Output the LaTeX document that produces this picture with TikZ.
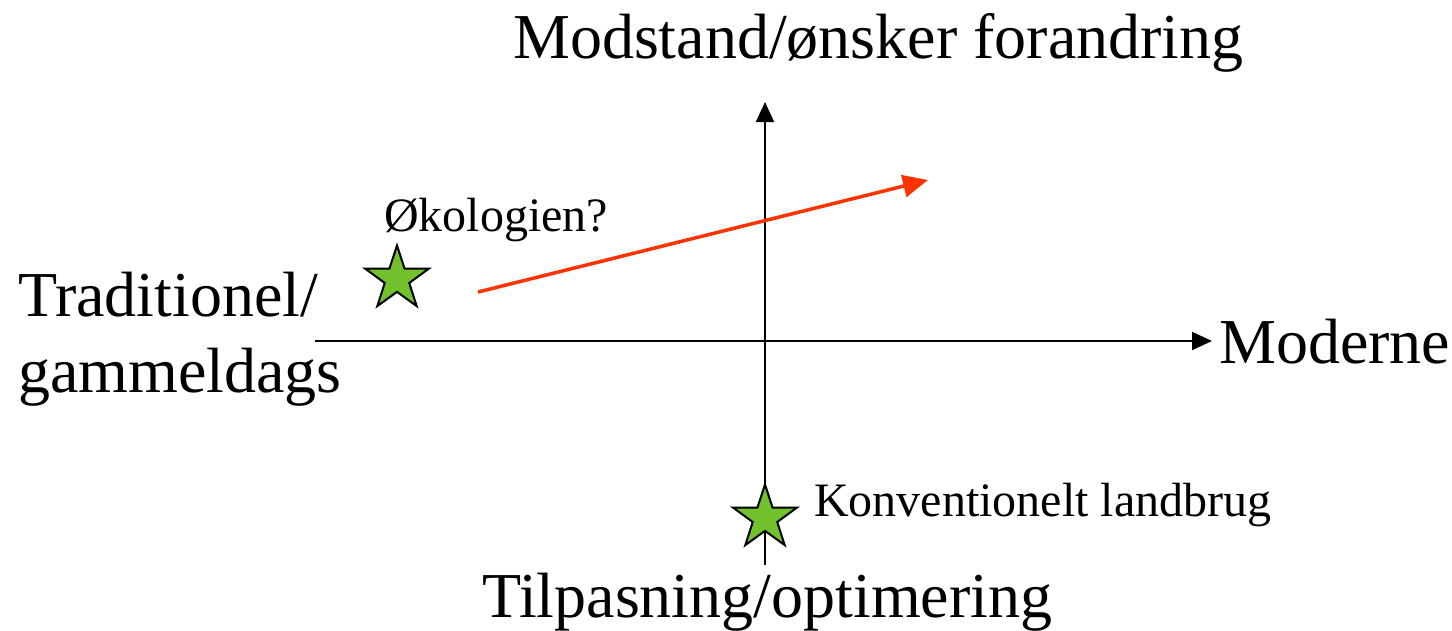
\documentclass[tikz,border=0pt]{standalone}
\usepackage{fontspec}
\setmainfont{Liberation Serif}
\usetikzlibrary{arrows.meta,shapes.geometric}
\definecolor{stargreen}{RGB}{114,192,44}
\definecolor{trendred}{RGB}{255,51,0}
\tikzset{
  bigtext/.style={font=\fontsize{64}{76}\selectfont, inner sep=0pt},
  smalltext/.style={font=\fontsize{48}{56}\selectfont, inner sep=0pt},
  axis/.style={line width=2pt, -{Triangle[length=20pt,width=18pt]}},
  greenstar/.style={star, star points=5, star point ratio=2.6, draw,
                    line width=2pt, fill=stargreen, minimum size=67pt, inner sep=0pt}
}
\begin{document}
\begin{tikzpicture}[x=1pt,y=-1pt]
\useasboundingbox (0,0) rectangle (1452,630);
 % axes and trend
 \coordinate (xleft) at (315,341);
 \coordinate (xright) at (1212,341);
 \coordinate (ybottom) at (765,565);
 \coordinate (ytop) at (765,102);
 \coordinate (trendstart) at (478,292);
 \coordinate (trendend) at (928,180);
 \begin{scope}[every node/.style={bigtext, anchor=base west}]
  \node (modstand) at (513,58) {Modstand/ønsker forandring};
  \node (traditionel) at (18,392) [align=left] {Traditionel/\\gammeldags};
  \node (moderne) at (1219,363) {Moderne};
  \node (tilpasning) at (482,617) {Tilpasning/optimering};
 \end{scope}
 \begin{scope}[every node/.style={smalltext, anchor=base west}]
  \node (okologi) at (384,231) {Økologien?};
  \node (konventionel) at (814,516) {Konventionelt landbrug};
 \end{scope}
  \path [axis] (xleft) edge (xright);
  \path [axis] (ybottom) edge (ytop);
  \path [line width=3.5pt, trendred, -{Triangle[length=25pt,width=22pt]}] (trendstart) edge (trendend);
 \begin{scope}[every node/.style={greenstar}]
  \node (okostar) at (397,279) {};
  \node (konvstar) at (765,518) {};
 \end{scope}
\end{tikzpicture}
\end{document}
